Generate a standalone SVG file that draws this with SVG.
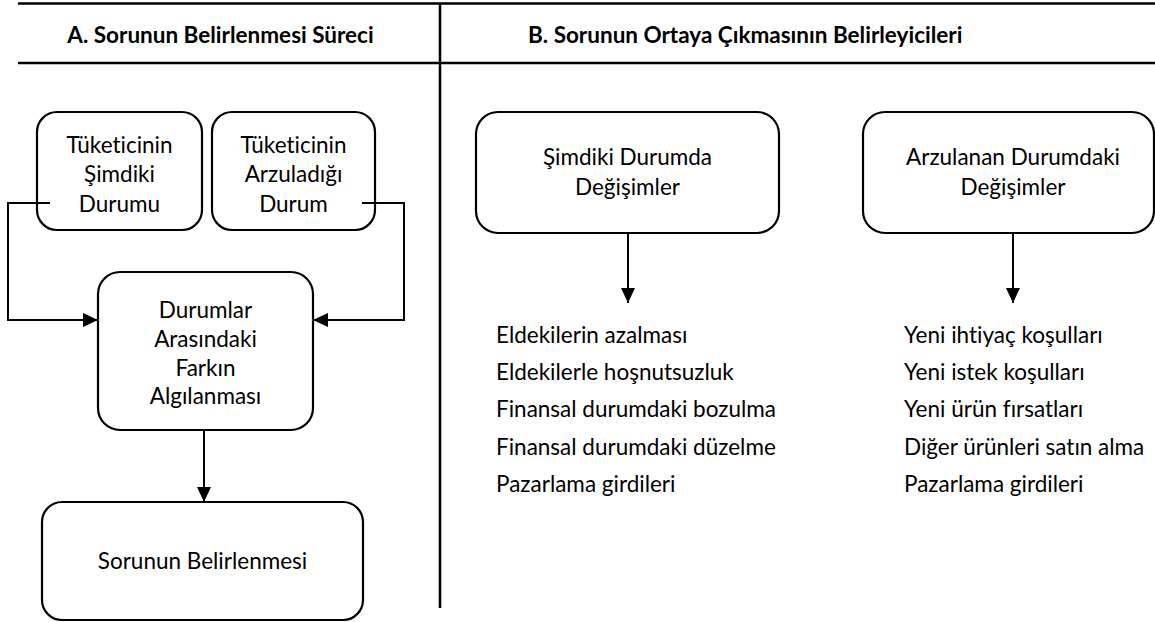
<svg xmlns="http://www.w3.org/2000/svg" width="1155" height="622" viewBox="0 0 1155 622">
<style>
.box{fill:#fff;stroke:#000;stroke-width:2.2}
.rule{stroke:#000;stroke-width:2.5;fill:none}
.conn{stroke:#000;stroke-width:2;fill:none}
.t{font-family:Lato,"Open Sans","Liberation Sans",sans-serif;font-size:22.5px;fill:#000;font-variant-ligatures:none}
.c{text-anchor:middle}
.h{font-weight:bold}
</style>
<defs>
<marker id="ah" markerUnits="userSpaceOnUse" markerWidth="16" markerHeight="14" refX="15" refY="7" orient="auto">
<path d="M0,0 L15,7 L0,14 Z" fill="#000"/>
</marker>
</defs>
<rect width="1155" height="622" fill="#fff"/>
<g id="frame">
<line class="rule" x1="18" y1="3.5" x2="1155" y2="3.5"/>
<line class="rule" x1="18" y1="63" x2="1155" y2="63"/>
<line class="rule" x1="440" y1="3.5" x2="440" y2="608"/>
<text class="t h c" x="220.5" y="43">A. Sorunun Belirlenmesi Süreci</text>
<text class="t h" x="528" y="43">B. Sorunun Ortaya Çıkmasının Belirleyicileri</text>
</g>
<g id="n1">
<rect class="box" x="37" y="112" width="165" height="118" rx="20"/>
<text class="t c" x="119.5" y="153">Tüketicinin</text>
<text class="t c" x="119.5" y="182">Şimdiki</text>
<text class="t c" x="119.5" y="212">Durumu</text>
</g>
<g id="n2">
<rect class="box" x="212" y="112" width="163" height="118" rx="20"/>
<text class="t c" x="293.5" y="153">Tüketicinin</text>
<text class="t c" x="293.5" y="182">Arzuladığı</text>
<text class="t c" x="293.5" y="212">Durum</text>
</g>
<g id="n3">
<rect class="box" x="98" y="272" width="215" height="158" rx="22"/>
<text class="t c" x="205.5" y="318">Durumlar</text>
<text class="t c" x="205.5" y="347">Arasındaki</text>
<text class="t c" x="205.5" y="376">Farkın</text>
<text class="t c" x="205.5" y="404">Algılanması</text>
</g>
<g id="n4">
<rect class="box" x="42" y="502" width="321" height="118" rx="20"/>
<text class="t c" x="202.5" y="569">Sorunun Belirlenmesi</text>
</g>
<g id="n5">
<rect class="box" x="476" y="112" width="303" height="121" rx="22"/>
<text class="t c" x="627.5" y="165">Şimdiki Durumda</text>
<text class="t c" x="627.5" y="195">Değişimler</text>
</g>
<g id="n6">
<rect class="box" x="863" y="112" width="291" height="121" rx="22"/>
<text class="t c" x="1013" y="165">Arzulanan Durumdaki</text>
<text class="t c" x="1013" y="195">Değişimler</text>
</g>
<g id="list1">
<text class="t" x="496" y="343">Eldekilerin azalması</text>
<text class="t" x="496" y="380">Eldekilerle hoşnutsuzluk</text>
<text class="t" x="496" y="417">Finansal durumdaki bozulma</text>
<text class="t" x="496" y="455">Finansal durumdaki düzelme</text>
<text class="t" x="496" y="492">Pazarlama girdileri</text>
</g>
<g id="list2">
<text class="t" x="904" y="343">Yeni ihtiyaç koşulları</text>
<text class="t" x="904" y="380">Yeni istek koşulları</text>
<text class="t" x="904" y="417">Yeni ürün fırsatları</text>
<text class="t" x="904" y="455">Diğer ürünleri satın alma</text>
<text class="t" x="904" y="492">Pazarlama girdileri</text>
</g>
<g id="connectors">
<path class="conn" d="M50,203 H8 V320 H98" marker-end="url(#ah)"/>
<path class="conn" d="M362,203 H404 V320 H313" marker-end="url(#ah)"/>
<path class="conn" d="M204,431 V502" marker-end="url(#ah)"/>
<path class="conn" d="M628,234 V303" marker-end="url(#ah)"/>
<path class="conn" d="M1013,234 V303" marker-end="url(#ah)"/>
</g>
</svg>
